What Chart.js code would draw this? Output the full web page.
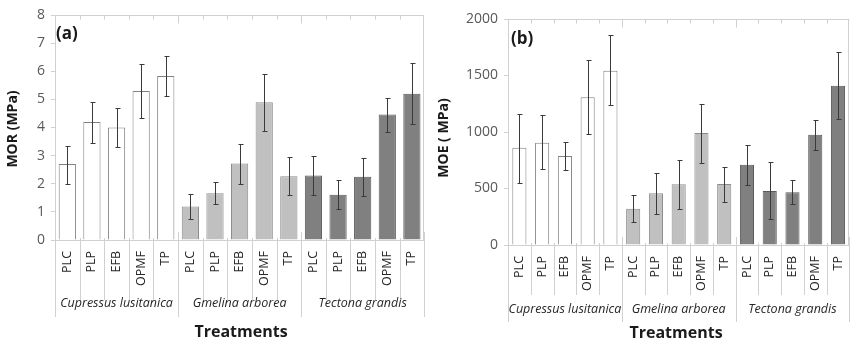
<!DOCTYPE html>
<html><head><meta charset="utf-8">
<script src="https://cdn.jsdelivr.net/npm/chart.js@4/dist/chart.umd.min.js"></script>
<style>
html,body{margin:0;padding:0;background:#fff;}
body{width:853px;height:341px;overflow:hidden;position:relative;}
#ca{position:absolute;left:0;top:0;}
#cb{position:absolute;left:430px;top:0;}
</style></head>
<body>
<canvas id="ca" width="430" height="341"></canvas>
<canvas id="cb" width="426" height="341"></canvas>
<script>
const species = ['Cupressus lusitanica', 'Gmelina arborea', 'Tectona grandis'];
const treatments = ['PLC', 'PLP', 'EFB', 'OPMF', 'TP'];
const categories = species.flatMap(() => treatments);

const morMean = [2.7, 4.2, 4.0, 5.3, 5.83, 1.19, 1.66, 2.72, 4.9, 2.27, 2.29, 1.61, 2.25, 4.46, 5.2];
const morLow  = [1.98, 3.46, 3.3, 4.33, 5.11, 0.75, 1.27, 2.0, 3.87, 1.6, 1.59, 1.09, 1.57, 3.85, 4.12];
const morHigh = [3.36, 4.89, 4.7, 6.25, 6.55, 1.63, 2.05, 3.4, 5.9, 2.94, 2.98, 2.15, 2.92, 5.04, 6.31];

const moeMean = [861, 905, 788, 1307, 1543, 321, 457, 537, 991, 540, 711, 478, 466, 976, 1410];
const moeLow  = [551, 670, 661, 980, 1236, 201, 274, 321, 728, 378, 531, 227, 360, 843, 1112];
const moeHigh = [1162, 1147, 911, 1634, 1858, 440, 634, 750, 1248, 693, 888, 732, 572, 1109, 1711];

const morTicks = [0, 1, 2, 3, 4, 5, 6, 7, 8];
const moeTicks = [0, 500, 1000, 1500, 2000];

const groupFill = ['#ffffff', '#c0c0c0', '#808080'];
const groupBorder = ['#808080', '#8c8c8c', '#5a5a5a'];
const fills = species.flatMap((s, g) => treatments.map(() => groupFill[g]));
const borders = species.flatMap((s, g) => treatments.map(() => groupBorder[g]));

const FONT = "'Open Sans', 'Liberation Sans', sans-serif";
const LINE = '#d0d0d0';

const decor = {
  id: 'decor',
  afterDatasetsDraw(chart, args, o) {
    const ctx = chart.ctx, xs = chart.scales.x, ys = chart.scales.y, a = chart.chartArea;
    const n = categories.length, w = (a.right - a.left) / n;
    ctx.save();
    ctx.strokeStyle = LINE; ctx.lineWidth = 1;
    ctx.beginPath();
    const top = Math.round(a.top) + 0.5;
    ctx.moveTo(a.left, top); ctx.lineTo(a.right, top);
    for (let k = 1; k < n; k++) {
      const bx = Math.round(a.left + k * w) + 0.5;
      ctx.moveTo(bx, top); ctx.lineTo(bx, top + (k % 5 === 0 ? 8 : 4));
    }
    const rx = Math.round(a.right) - 0.5;
    ctx.moveTo(rx, a.top); ctx.lineTo(rx, a.bottom);
    for (let k = 0; k <= n; k++) {
      const bx = Math.round(a.left + k * w) + 0.5;
      const isG = k % 5 === 0;
      ctx.moveTo(bx, isG ? a.bottom - 8 : a.bottom - 2);
      ctx.lineTo(bx, a.bottom + (isG ? o.gLen : o.cLen));
    }
    ctx.stroke();
    ctx.strokeStyle = '#3a3a3a'; ctx.lineWidth = 1;
    ctx.beginPath();
    for (let i = 0; i < n; i++) {
      const cx = Math.round(xs.getPixelForValue(i)) + 0.5;
      const y1 = Math.round(ys.getPixelForValue(o.lo[i])) + 0.5;
      const y2 = Math.round(ys.getPixelForValue(o.hi[i])) + 0.5;
      ctx.moveTo(cx, y1); ctx.lineTo(cx, y2);
      ctx.moveTo(cx - 2, y1); ctx.lineTo(cx + 3, y1);
      ctx.moveTo(cx - 2, y2); ctx.lineTo(cx + 3, y2);
    }
    ctx.stroke();
    ctx.fillStyle = '#262626';
    ctx.font = 'italic 12.5px ' + FONT;
    ctx.textAlign = 'center'; ctx.textBaseline = 'middle';
    species.forEach((s, g) => {
      const cx = a.left + (g * 5 + 2.5) * w;
      ctx.fillText(s, cx, a.bottom + o.gLabelY);
    });
    ctx.font = 'bold 16px ' + FONT;
    ctx.fillStyle = '#1a1a1a';
    ctx.fillText('Treatments', o.xTitleX, o.xTitleY);
    ctx.save();
    ctx.translate(o.yTitleX, o.yTitleY);
    ctx.rotate(-Math.PI / 2);
    ctx.font = 'bold 14px ' + FONT;
    ctx.fillText(o.yTitle, 0, 0);
    ctx.restore();
    ctx.font = 'bold 17px ' + FONT;
    ctx.textAlign = 'left';
    ctx.fillText(o.letter, o.letterX, o.letterY);
    ctx.restore();
  }
};

function makeChart(id, mean, lo, hi, max, tickVals, pad, yWidth, xHeight, o) {
  return new Chart(document.getElementById(id), {
    type: 'bar',
    data: {
      labels: categories,
      datasets: [{
        data: mean,
        backgroundColor: fills,
        borderColor: borders,
        borderWidth: 1,
        categoryPercentage: 1,
        barPercentage: o.barPct
      }]
    },
    options: {
      responsive: false,
      animation: false,
      layout: { padding: pad },
      plugins: {
        legend: { display: false },
        tooltip: { enabled: false },
        decor: Object.assign({ lo: lo, hi: hi }, o)
      },
      scales: {
        x: {
          grid: { display: false },
          border: { display: true, color: LINE },
          ticks: {
            minRotation: 90, maxRotation: 90, autoSkip: false,
            padding: 3,
            color: '#262626',
            font: { family: FONT, size: 12.5 }
          },
          afterFit(s) { s.height = xHeight; }
        },
        y: {
          min: 0, max: max,
          afterBuildTicks(s) { s.ticks = tickVals.map(v => ({ value: v })); },
          grid: { drawOnChartArea: false, drawTicks: true, tickLength: 4, color: LINE },
          border: { display: true, color: LINE },
          ticks: {
            padding: 6,
            color: '#595959',
            font: { family: FONT, size: 14 },
            callback: v => String(v)
          },
          afterFit(s) { s.width = yWidth; }
        }
      }
    },
    plugins: [decor]
  });
}

makeChart('ca', morMean, morLow, morHigh, 8, morTicks,
  { top: 15, right: 3, left: 0, bottom: 0 }, 55, 101,
  { barPct: 0.7, cLen: 60, gLen: 77, gLabelY: 63, xTitleX: 241, xTitleY: 332,
    yTitle: 'MOR (MPa)', yTitleX: 13, yTitleY: 129, letter: '(a)', letterX: 56, letterY: 34 });

makeChart('cb', moeMean, moeLow, moeHigh, 2000, moeTicks,
  { top: 19, right: 0, left: 0, bottom: 0 }, 78, 96,
  { barPct: 0.62, cLen: 50, gLen: 77, gLabelY: 64, xTitleX: 246, xTitleY: 333,
    yTitle: 'MOE ( MPa)', yTitleX: 14, yTitleY: 138, letter: '(b)', letterX: 81, letterY: 39 });
</script>
</body></html>
